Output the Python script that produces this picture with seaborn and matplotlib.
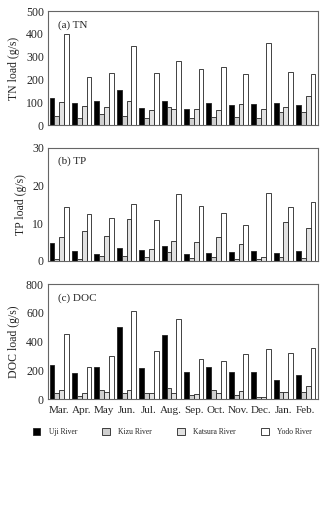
import numpy as np
import pandas as pd
import matplotlib
matplotlib.use("Agg")
import matplotlib.pyplot as plt
from matplotlib.patches import Patch
import seaborn as sns

months = ["Mar.", "Apr.", "May", "Jun.", "Jul.", "Aug.", "Sep.", "Oct.", "Nov.", "Dec.", "Jan.", "Feb."]
rivers = ["Uji River", "Kizu River", "Katsura River", "Yodo River"]

tn_uji = [120, 96, 104, 153, 76, 104, 72, 97, 90, 93, 99, 86]
tn_kizu = [40, 29, 50, 41, 29, 79, 33, 37, 36, 30, 56, 58]
tn_katsura = [100, 82, 80, 104, 64, 72, 72, 65, 93, 72, 80, 127]
tn_yodo = [400, 213, 230, 347, 228, 280, 248, 255, 224, 360, 234, 225]

tp_uji = [4.6, 2.5, 1.9, 3.5, 2.8, 4.0, 1.7, 2.1, 2.3, 2.7, 2.0, 2.5]
tp_kizu = [0.5, 0.4, 1.3, 1.3, 1.0, 2.4, 0.8, 1.1, 0.5, 0.4, 1.1, 0.7]
tp_katsura = [6.3, 7.8, 6.7, 11.0, 3.1, 5.2, 5.0, 6.3, 4.4, 1.1, 10.4, 8.8]
tp_yodo = [14.4, 12.3, 11.3, 15.2, 10.9, 17.8, 14.6, 12.8, 9.5, 18.0, 14.2, 15.7]

doc_uji = [235, 180, 220, 498, 215, 445, 185, 225, 185, 185, 130, 165]
doc_kizu = [40, 20, 65, 45, 40, 80, 30, 60, 30, 15, 50, 50]
doc_katsura = [65, 40, 52, 65, 40, 45, 35, 40, 55, 15, 50, 90]
doc_yodo = [452, 220, 300, 615, 332, 557, 282, 262, 316, 348, 320, 355]

colors = ["#000000", "#cfcfcf", "#e2e2e2", "#ffffff"]

def frame(series):
    rows = []
    for r, vals in zip(rivers, series):
        for m, v in zip(months, vals):
            rows.append({"month": m, "river": r, "value": v})
    return pd.DataFrame(rows)

panels = [
    (frame([tn_uji, tn_kizu, tn_katsura, tn_yodo]), "TN load (g/s)", "(a) TN", (0, 500), [0, 100, 200, 300, 400, 500]),
    (frame([tp_uji, tp_kizu, tp_katsura, tp_yodo]), "TP load (g/s)", "(b) TP", (0, 30), [0, 10, 20, 30]),
    (frame([doc_uji, doc_kizu, doc_katsura, doc_yodo]), "DOC load (g/s)", "(c) DOC", (0, 800), [0, 200, 400, 600, 800]),
]

sns.set_style("white")
plt.rcParams["font.family"] = ["Liberation Serif", "DejaVu Serif"]
plt.rcParams["font.size"] = 8.5

fig = plt.figure(figsize=(3.25, 5.3), dpi=100)
positions = [
    [0.148, 0.764, 0.83, 0.215],
    [0.148, 0.508, 0.83, 0.213],
    [0.148, 0.247, 0.83, 0.217],
]

for (df, ylabel, title, ylim, yticks), pos in zip(panels, positions):
    ax = fig.add_axes(pos)
    sns.barplot(data=df, x="month", y="value", hue="river", hue_order=rivers,
                palette=colors, width=0.86, edgecolor="#222222", linewidth=0.6,
                legend=False, ax=ax)
    ax.set_ylim(*ylim)
    ax.set_yticks(yticks)
    ax.set_xlim(-0.46, 11.54)
    ax.set_ylabel(ylabel, fontsize=8.5, labelpad=4)
    ax.set_xlabel("")
    ax.text(0.035, 0.88, title, transform=ax.transAxes, fontsize=8, va="center", ha="left")
    ax.set_xticks(np.arange(12))
    ax.set_xticks(np.arange(-0.5, 12, 1), minor=True)
    ax.tick_params(axis="x", which="major", length=0, pad=5)
    ax.tick_params(axis="x", which="minor", direction="in", length=2, color="#555555")
    ax.tick_params(axis="y", direction="in", length=2.5, color="#555555", pad=3, labelsize=8.5)
    for s in ax.spines.values():
        s.set_color("#666666")
        s.set_linewidth(0.8)
    if ylabel.startswith("DOC"):
        ax.set_xticklabels(months, fontsize=8)
    else:
        ax.set_xticklabels([])

handles = [Patch(facecolor=c, edgecolor="#222222", linewidth=0.6) for c in colors]
fig.legend(handles, rivers, loc="center", bbox_to_anchor=(0.53, 0.185), ncol=4,
           frameon=False, fontsize=5.5, handlelength=1.0, handleheight=1.0,
           columnspacing=3.3, handletextpad=1.1)

fig.savefig("out.png", dpi=100)
